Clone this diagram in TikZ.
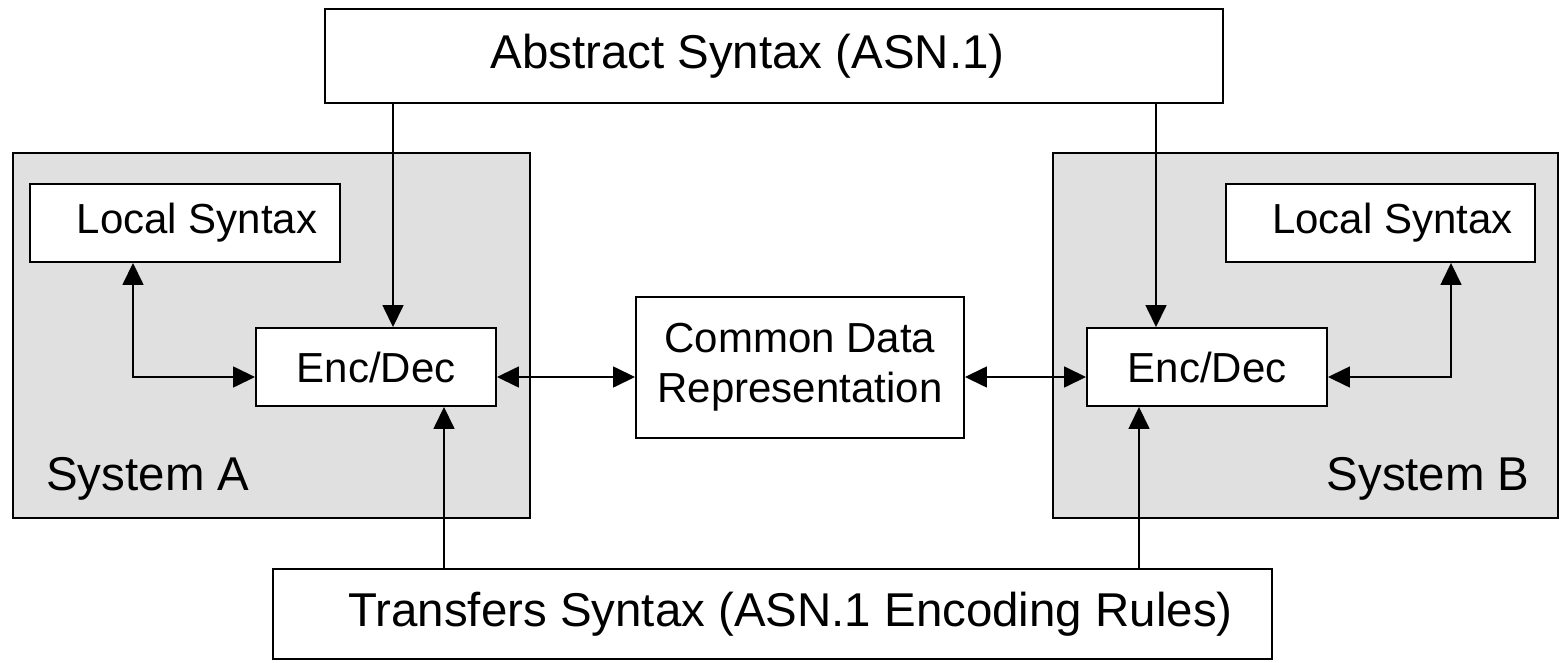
\documentclass[tikz,border=0pt]{standalone}
\usepackage{fontspec}
\setmainfont{Liberation Sans}
\usetikzlibrary{arrows.meta}

\tikzset{
  box/.style={draw,fill=white,line width=1.1pt,inner sep=0pt,font=\fontsize{23.9}{28.5}\selectfont},
  bigbox/.style={box,font=\fontsize{27}{32}\selectfont},
  sysbox/.style={draw,fill=black!12,line width=1.1pt,inner sep=0pt},
  syslabel/.style={inner sep=0pt,font=\fontsize{27}{32}\selectfont},
  link/.style={line width=0.9pt,-{Triangle[length=0.44cm,width=0.42cm]}},
  duallink/.style={line width=0.9pt,{Triangle[length=0.44cm,width=0.42cm]}-{Triangle[length=0.44cm,width=0.42cm]}}
}

\begin{document}
\begin{tikzpicture}
\useasboundingbox (0,0) rectangle (31.2,13.24);
\path (5.43,6.53) node[sysbox,minimum width=10.34cm,minimum height=7.3cm](SystemA){} (26.11,6.53) node[sysbox,minimum width=10.1cm,minimum height=7.3cm](SystemB){};
\path (0.92,3.44) node[syslabel,anchor=base west](LabelA){System A} (30.6,3.44) node[syslabel,anchor=base east](LabelB){System B};

\path (15.48,12.12) node[bigbox,minimum width=17.96cm,minimum height=1.88cm](Abstract){Abstract Syntax (ASN.1)\hspace*{1.06cm}} (15.45,0.96) node[bigbox,minimum width=19.98cm,minimum height=1.8cm](Transfers){\hspace*{0.72cm}Transfers Syntax (ASN.1 Encoding Rules)};
\path (3.7,8.78) node[box,minimum width=6.2cm,minimum height=1.56cm](LocalA){\hspace*{0.48cm}Local Syntax} (27.61,8.78) node[box,minimum width=6.18cm,minimum height=1.56cm](LocalB){\hspace*{0.48cm}Local Syntax};
\path (7.52,5.9) node[box,minimum width=4.8cm,minimum height=1.56cm](EncA){Enc/Dec} (24.14,5.9) node[box,minimum width=4.8cm,minimum height=1.56cm](EncB){Enc/Dec};
\path (16,5.89) node[box,align=center,minimum width=6.56cm,minimum height=2.82cm](Common){Common Data\\Representation};

\draw[link] ([xshift=0.34cm]EncA.north |- Abstract.south) -- ([xshift=0.34cm]EncA.north);
\draw[link] ([xshift=-1.02cm]EncB.north |- Abstract.south) -- ([xshift=-1.02cm]EncB.north);
\draw[link] ([xshift=1.36cm]EncA.south |- Transfers.north) -- ([xshift=1.36cm]EncA.south);
\draw[link] ([xshift=-1.36cm]EncB.south |- Transfers.north) -- ([xshift=-1.36cm]EncB.south);
\draw[duallink] ([xshift=-1.04cm]LocalA.south) |- ([yshift=-0.2cm]EncA.west);
\draw[duallink] ([xshift=1.41cm]LocalB.south) |- ([yshift=-0.2cm]EncB.east);
\draw[duallink] ([yshift=-0.2cm]EncA.east) -- ([yshift=-0.2cm]EncA.east -| Common.west);
\draw[duallink] ([yshift=-0.2cm]EncB.west -| Common.east) -- ([yshift=-0.2cm]EncB.west);
\end{tikzpicture}
\end{document}
